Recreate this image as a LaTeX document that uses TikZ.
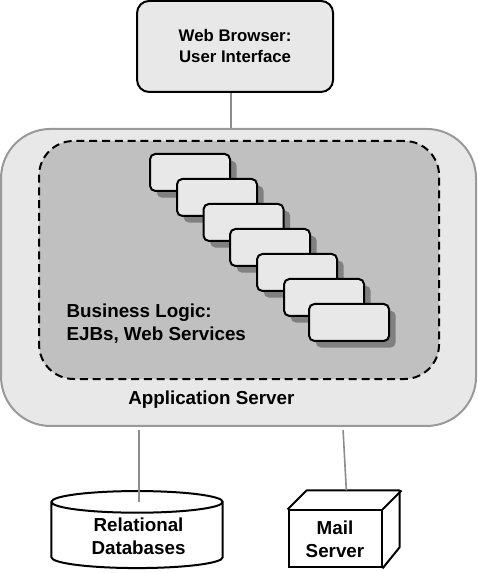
\documentclass[tikz,border=0pt]{standalone}
\usepackage{fontspec}
\setmainfont{Liberation Sans}
\usepackage{xcolor}
\usepackage{tikz}
\usetikzlibrary{calc, shadows, shapes.geometric, positioning}
\definecolor{boxfill}{HTML}{E8E8E8}
\definecolor{logicfill}{HTML}{C0C0C0}
\definecolor{linegray}{HTML}{8C8C8C}
\definecolor{shadowgray}{HTML}{808080}
\tikzset{
    basenode/.style = {rectangle, inner sep = 0em, node distance=0em, align=center},
    labelnode/.style = {basenode, draw=none, fill=none, font=\bfseries\fontsize{14.1}{17.25}\selectfont},
    browsernode/.style = {basenode, draw, line width=1.5pt, fill=boxfill, rounded corners=9pt, 
        minimum width=147pt, minimum height=68.25pt, font=\bfseries\fontsize{12.6}{15.75}\selectfont},
    appnode/.style = {basenode, draw=black!40, line width=1.5pt, fill=boxfill, rounded corners=37pt, 
        minimum width=356.25pt, minimum height=222.75pt},
    logicnode/.style = {basenode, draw, line width=1.5pt, dash pattern=on 6pt off 3.6pt, fill=logicfill, 
        rounded corners=26pt, minimum width=300pt, minimum height=178.5pt},
    ejbnode/.style = {basenode, draw, line width=1.5pt, fill=boxfill, rounded corners=4pt, 
        minimum width=60pt, minimum height=27.75pt, 
        drop shadow={shadow xshift=5pt, shadow yshift=-5pt, fill=shadowgray, opacity=1}},
    dbnode/.style = {basenode, draw, line width=1.5pt, fill=white, cylinder, shape border rotate=90, 
        aspect=0.23, minimum width=128.5pt, minimum height=57.75pt, 
        font=\bfseries\fontsize{14.1}{17.25}\selectfont},
    mailnode/.style = {basenode, draw, line width=1.5pt, fill=white, minimum width=69.75pt, minimum height=42.75pt, 
        font=\bfseries\fontsize{14.1}{17.25}\selectfont},
    connect/.style = {linegray, line width=1.5pt},
}
\begin{document}
\begin{tikzpicture}
    \useasboundingbox (0,0) rectangle (357.75pt,-429.75pt);

    \node [name=app, appnode] at (178.9pt,-208.1pt) {}; 
    \node [name=logic, logicnode, right of = app, xshift=0.4pt, yshift=13.1pt] {}; 
    \node [name=browser, browsernode, right of = app, xshift=-2.6pt, yshift=173.25pt] {Web Browser:\\User Interface}; 

    \node [name=ejb1, ejbnode, right of = app, xshift=-36.4pt, yshift=78.75pt] {}; 
    \foreach \cur/\prev/\dx in {2/1/20.25, 3/2/19.9, 4/3/19.9, 5/4/20.25, 6/5/20.25, 7/6/18.75} {
        \node [name=ejb\cur, ejbnode, right of = ejb\prev, xshift=\dx pt, yshift=-18.75pt] {}; 
    }

    \node [name=logictext, labelnode, align=left, anchor=north west] at (49.7pt,-227.5pt) {Business Logic:\\EJBs, Web Services}; 
    \node [name=apptext, labelnode, right of = app, xshift=-20.4pt, yshift=-91.5pt] {Application Server}; 

    \node [name=db, dbnode, right of = app, xshift=-76.1pt, yshift=-193.5pt] {\phantom{Relational}\\\phantom{Databases}}; 
    \node [name=dbtext, labelnode, right of = app, xshift=-75pt, yshift=-194.25pt] {Relational\\Databases}; 

    \node [name=mail, mailnode, right of = app, xshift=72.35pt, yshift=-196.1pt] {Mail\\Server}; 
    \draw [line width=1.5pt, line join=round] (mail.north west) -- ++(14.25pt,14.25pt) -- ++(69.75pt,0pt) -- ++(0pt,-42.75pt) -- (mail.south east); 
    \draw [line width=1.5pt] (mail.north east) -- ++(14.25pt,14.25pt); 

    \draw [connect] ([xshift=-3pt]browser.south) -- ([xshift=-5.6pt]app.north); 
    \coordinate (dbtop) at ([yshift=-2.25pt,xshift=-74.6pt]app.south); 
    \draw [connect] (dbtop) -- (db.after top -| dbtop); 
    \coordinate (mailtop) at ([yshift=-2.25pt,xshift=78.4pt]app.south); 
    \coordinate (mailback) at ([xshift=8.5pt,yshift=14.25pt]mail.north); 
    \draw [connect, line width=1.2pt] (mailtop) -- (mailback); 
\end{tikzpicture}
\end{document}
